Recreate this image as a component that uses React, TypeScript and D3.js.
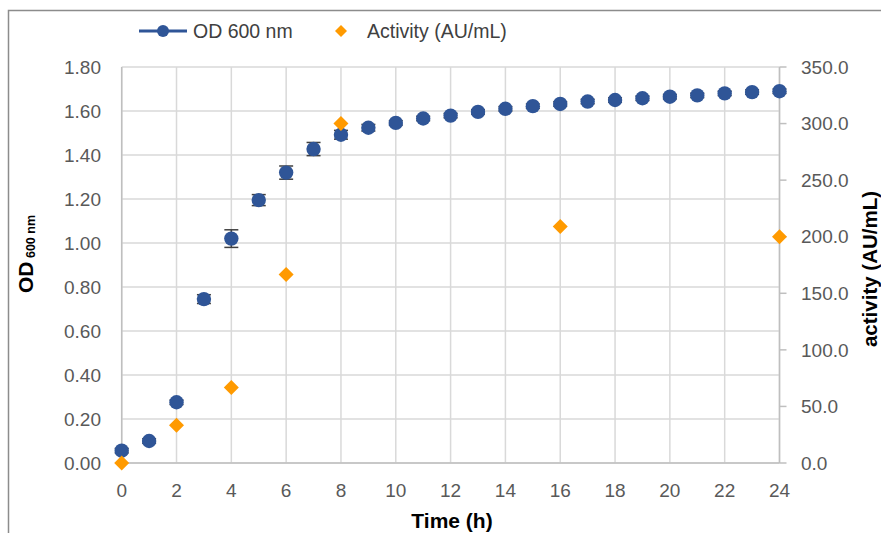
import React from "react";
import * as d3 from "d3";

const hours = [0, 1, 2, 3, 4, 5, 6, 7, 8, 9, 10, 11, 12, 13, 14, 15, 16, 17, 18, 19, 20, 21, 22, 23, 24];
const od600 = [0.056, 0.1, 0.276, 0.745, 1.02, 1.195, 1.32, 1.427, 1.492, 1.524, 1.546, 1.566, 1.579, 1.596, 1.61, 1.622, 1.632, 1.643, 1.65, 1.658, 1.665, 1.671, 1.68, 1.686, 1.69];
const odError = [0.01, 0.01, 0.01, 0.02, 0.04, 0.025, 0.03, 0.03, 0.02, 0.015, 0.01, 0.01, 0.01, 0.01, 0.01, 0.01, 0.01, 0.01, 0.01, 0.01, 0.01, 0.01, 0.01, 0.01, 0.01];
const activityHours = [0, 2, 4, 6, 8, 16, 24];
const activity = [0, 33.3, 66.7, 166.7, 300, 209, 200];
const xTicks = [0, 2, 4, 6, 8, 10, 12, 14, 16, 18, 20, 22, 24];
const leftTicks = [0, 0.2, 0.4, 0.6, 0.8, 1.0, 1.2, 1.4, 1.6, 1.8];
const rightTicks = [0, 50, 100, 150, 200, 250, 300, 350];

const BLUE = "#2F5597";
const ORANGE = "#FF9A00";
const GRID = "#D9D9D9";
const AXIS = "#BFBFBF";
const LABEL = "#595959";
const FONT = "'Liberation Sans', Arial, sans-serif";

export default function App() {
  const x = d3.scaleLinear().domain([0, 24]).range([121.7, 779.5]);
  const yL = d3.scaleLinear().domain([0, 1.8]).range([463, 67]);
  const yR = d3.scaleLinear().domain([0, 350]).range([463, 67]);
  const diamond = (cx: number, cy: number, s: number) =>
    `M${cx},${cy - s}L${cx + s},${cy}L${cx},${cy + s}L${cx - s},${cy}Z`;

  return (
    <svg width={881} height={533} style={{ position: "absolute", left: 0, top: 0 }} fontFamily={FONT}>
      <rect x={0} y={0} width={881} height={533} fill="#fff" />
      {/* outer border (left & top) */}
      <path d="M8.5,533V10.5H881" fill="none" stroke="#8C8C8C" strokeWidth={1.5} />

      {/* horizontal gridlines */}
      {leftTicks.map((t) => (
        <line key={"h" + t} x1={x(0)} x2={x(24)} y1={yL(t)} y2={yL(t)} stroke={GRID} strokeWidth={1.5} />
      ))}
      {/* vertical gridlines */}
      {xTicks.map((t) => (
        <line key={"v" + t} x1={x(t)} x2={x(t)} y1={yL(0)} y2={yL(1.8)} stroke={GRID} strokeWidth={1.5} />
      ))}

      {/* axes */}
      <line x1={x(0)} x2={x(0)} y1={yL(0)} y2={yL(1.8)} stroke={AXIS} strokeWidth={1.5} />
      <line x1={x(0)} x2={x(24)} y1={yL(0)} y2={yL(0)} stroke={AXIS} strokeWidth={1.5} />
      <line x1={x(24)} x2={x(24)} y1={yR(0)} y2={yR(350)} stroke={AXIS} strokeWidth={1.5} />
      {rightTicks.map((t) => (
        <line key={"rt" + t} x1={x(24)} x2={x(24) + 7} y1={yR(t)} y2={yR(t)} stroke={AXIS} strokeWidth={1.5} />
      ))}

      {/* tick labels */}
      {leftTicks.map((t) => (
        <text key={"lt" + t} x={101} y={yL(t)} dy="0.35em" textAnchor="end" fontSize={19} fill={LABEL}>
          {d3.format(".2f")(t)}
        </text>
      ))}
      {rightTicks.map((t) => (
        <text key={"rl" + t} x={801} y={yR(t)} dy="0.35em" textAnchor="start" fontSize={19} fill={LABEL}>
          {d3.format(".1f")(t)}
        </text>
      ))}
      {xTicks.map((t) => (
        <text key={"xl" + t} x={x(t)} y={490} dy="0.35em" textAnchor="middle" fontSize={19} fill={LABEL}>
          {t}
        </text>
      ))}

      {/* axis titles */}
      <text x={452} y={528} textAnchor="middle" fontSize={21} fontWeight="bold" fill="#000">
        Time (h)
      </text>
      <text transform={`translate(33,254) rotate(-90)`} textAnchor="middle" fontWeight="bold" fill="#000">
        <tspan fontSize={21}>OD</tspan>
        <tspan fontSize={12.5} dy={2}> 600 nm</tspan>
      </text>
      <text transform={`translate(877,269) rotate(-90)`} textAnchor="middle" fontSize={20.5} fontWeight="bold" fill="#000">
        activity (AU/mL)
      </text>

      {/* error bars */}
      {hours.map((h, i) => (
        <g key={"e" + h} stroke="#404040" strokeWidth={1.5}>
          <line x1={x(h)} x2={x(h)} y1={yL(od600[i] - odError[i])} y2={yL(od600[i] + odError[i])} />
          <line x1={x(h) - 7} x2={x(h) + 7} y1={yL(od600[i] - odError[i])} y2={yL(od600[i] - odError[i])} />
          <line x1={x(h) - 7} x2={x(h) + 7} y1={yL(od600[i] + odError[i])} y2={yL(od600[i] + odError[i])} />
        </g>
      ))}

      {/* OD markers */}
      {hours.map((h, i) => (
        <circle key={"c" + h} cx={x(h)} cy={yL(od600[i])} r={7.2} fill={BLUE} />
      ))}

      {/* activity markers */}
      {activityHours.map((h, i) => (
        <path key={"d" + h} d={diamond(x(h), yR(activity[i]), 7.5)} fill={ORANGE} />
      ))}

      {/* legend */}
      <line x1={139} x2={187} y1={31} y2={31} stroke={BLUE} strokeWidth={3} />
      <circle cx={163} cy={31} r={6} fill={BLUE} />
      <text x={193} y={31} dy="0.35em" fontSize={19.5} fill="#404040">
        OD 600 nm
      </text>
      <path d={diamond(341, 31, 6)} fill={ORANGE} />
      <text x={367} y={31} dy="0.35em" fontSize={19.5} fill="#404040">
        Activity (AU/mL)
      </text>
    </svg>
  );
}
